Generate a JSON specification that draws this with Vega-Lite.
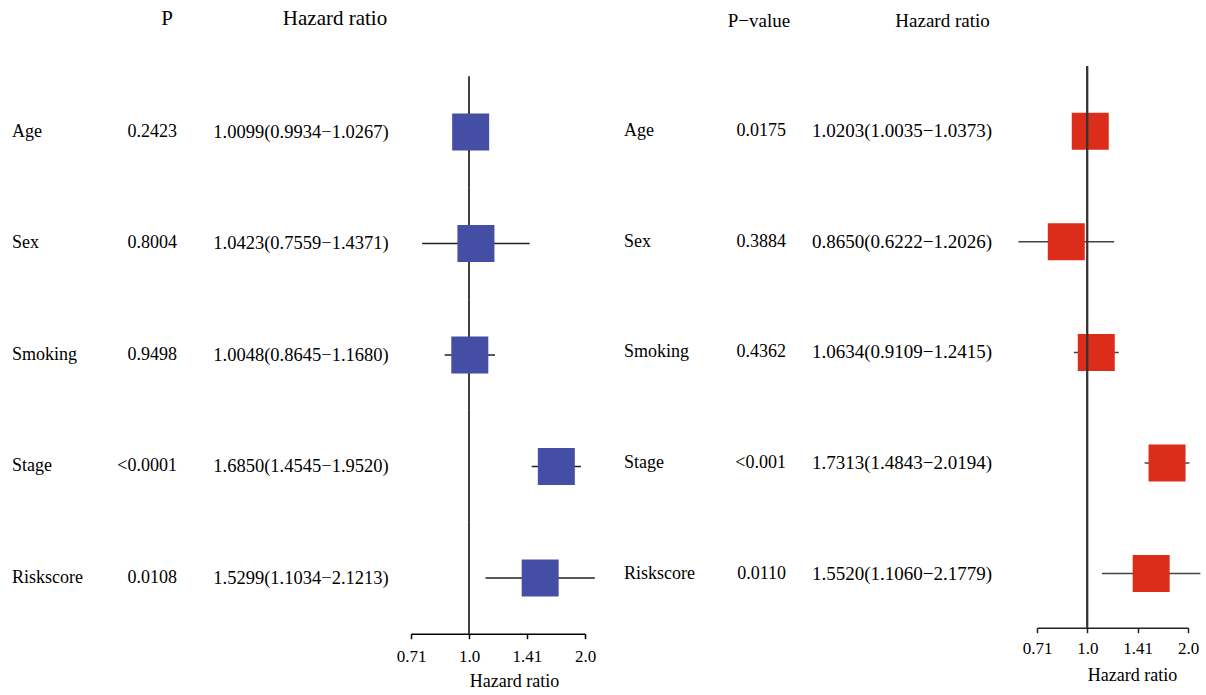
{
  "$schema": "https://vega.github.io/schema/vega-lite/v6.json",
  "autosize": {"type": "pad"},
  "padding": {"left": 12, "top": 8, "right": 4, "bottom": 0},
  "background": "white",
  "config": {"view": {"stroke": null}, "font": "Liberation Serif"},
  "datasets": {
    "left": [
      {"var": "Age", "p": "0.2423", "hr": 1.0099, "lo": 0.9934, "hi": 1.0267, "hrText": "1.0099(0.9934−1.0267)"},
      {"var": "Sex", "p": "0.8004", "hr": 1.0423, "lo": 0.7559, "hi": 1.4371, "hrText": "1.0423(0.7559−1.4371)"},
      {"var": "Smoking", "p": "0.9498", "hr": 1.0048, "lo": 0.8645, "hi": 1.168, "hrText": "1.0048(0.8645−1.1680)"},
      {"var": "Stage", "p": "<0.0001", "hr": 1.685, "lo": 1.4545, "hi": 1.952, "hrText": "1.6850(1.4545−1.9520)"},
      {"var": "Riskscore", "p": "0.0108", "hr": 1.5299, "lo": 1.1034, "hi": 2.1213, "hrText": "1.5299(1.1034−2.1213)"}
    ],
    "right": [
      {"var": "Age", "p": "0.0175", "hr": 1.0203, "lo": 1.0035, "hi": 1.0373, "hrText": "1.0203(1.0035−1.0373)"},
      {"var": "Sex", "p": "0.3884", "hr": 0.865, "lo": 0.6222, "hi": 1.2026, "hrText": "0.8650(0.6222−1.2026)"},
      {"var": "Smoking", "p": "0.4362", "hr": 1.0634, "lo": 0.9109, "hi": 1.2415, "hrText": "1.0634(0.9109−1.2415)"},
      {"var": "Stage", "p": "<0.001", "hr": 1.7313, "lo": 1.4843, "hi": 2.0194, "hrText": "1.7313(1.4843−2.0194)"},
      {"var": "Riskscore", "p": "0.0110", "hr": 1.552, "lo": 1.106, "hi": 2.1779, "hrText": "1.5520(1.1060−2.1779)"}
    ]
  },
  "hconcat": [
    {
      "width": 106, "height": 567.7,
      "data": {"name": "left"},
      "mark": {"type": "text", "align": "left", "fontSize": 18, "font": "Liberation Serif", "color": "black"},
      "encoding": {
        "x": {"datum": "c", "type": "nominal", "scale": {"type": "point", "padding": 0, "align": 0}, "axis": null},
        "y": {"field": "var", "type": "nominal", "sort": null, "scale": {"type": "band", "domain": ["Age", "Sex", "Smoking", "Stage", "Riskscore"], "paddingInner": 0, "paddingOuter": 0.0457, "align": 1}, "axis": null},
        "text": {"field": "var"}
      }
    },
    {
      "width": 59, "height": 567.7,
      "data": {"name": "left"},
      "title": {"text": "P", "frame": "group", "anchor": "end", "dx": -4, "fontSize": 21, "offset": 20, "baseline": "alphabetic", "fontWeight": "normal", "font": "Liberation Serif", "color": "black"},
      "mark": {"type": "text", "align": "right", "fontSize": 18, "font": "Liberation Serif", "color": "black"},
      "encoding": {
        "x": {"datum": "c", "type": "nominal", "scale": {"type": "point", "padding": 0, "align": 1}, "axis": null},
        "y": {"field": "var", "type": "nominal", "sort": null, "scale": {"type": "band", "domain": ["Age", "Sex", "Smoking", "Stage", "Riskscore"], "paddingInner": 0, "paddingOuter": 0.0457, "align": 1}, "axis": null},
        "text": {"field": "p"}
      }
    },
    {
      "width": 234, "height": 567.7,
      "data": {"name": "left"},
      "title": {"text": "Hazard ratio", "frame": "group", "anchor": "middle", "dx": 41, "fontSize": 21, "offset": 20, "baseline": "alphabetic", "fontWeight": "normal", "font": "Liberation Serif", "color": "black"},
      "mark": {"type": "text", "align": "center", "fontSize": 18.5, "font": "Liberation Serif", "color": "black"},
      "encoding": {
        "x": {"datum": "c", "type": "nominal", "scale": {"type": "point", "padding": 0, "align": 0.53}, "axis": null},
        "y": {"field": "var", "type": "nominal", "sort": null, "scale": {"type": "band", "domain": ["Age", "Sex", "Smoking", "Stage", "Riskscore"], "paddingInner": 0, "paddingOuter": 0.0457, "align": 1}, "axis": null},
        "text": {"field": "hrText"}
      }
    },
    {
      "width": 174, "height": 567.7,
      "data": {"name": "left"},
      "encoding": {
        "y": {"field": "var", "type": "nominal", "sort": null, "scale": {"type": "band", "domain": ["Age", "Sex", "Smoking", "Stage", "Riskscore"], "paddingInner": 0, "paddingOuter": 0.0457, "align": 1}, "axis": null}
      },
      "layer": [
        {
          "mark": {"type": "rect", "stroke": "black", "strokeWidth": 1.5, "fillOpacity": 0},
          "encoding": {
            "x": {"datum": 1, "type": "quantitative", "scale": {"type": "log", "base": 2, "domain": [0.7071, 2], "nice": false},
              "axis": {"values": [0.7071, 1, 1.4142, 2], "labelExpr": "datum.value < 0.8 ? '0.71' : datum.value < 1.2 ? '1.0' : datum.value < 1.6 ? '1.41' : '2.0'", "title": "Hazard ratio", "grid": false, "domainColor": "black", "domainWidth": 1.5, "tickColor": "black", "tickWidth": 1.5, "tickSize": 5, "labelFont": "Liberation Serif", "labelFontSize": 17, "labelColor": "black", "labelPadding": 10, "labelFlush": false, "labelOverlap": false, "titleFont": "Liberation Serif", "titleFontSize": 18, "titleFontWeight": "normal", "titleColor": "black", "titlePadding": 8, "titleX": 103}},
            "x2": {"datum": 1}
          }
        },
        {
          "mark": {"type": "rule", "color": "#222222", "strokeWidth": 1.5},
          "encoding": {
            "x": {"field": "lo", "type": "quantitative"},
            "x2": {"field": "hi"}
          }
        },
        {
          "mark": {"type": "point", "shape": "square", "filled": true, "size": 1369, "color": "#454EA5", "opacity": 1, "strokeWidth": 0},
          "encoding": {
            "x": {"field": "hr", "type": "quantitative"}
          }
        }
      ]
    },
    {
      "width": 135, "height": 561.7,
      "data": {"name": "right"},
      "mark": {"type": "text", "align": "left", "fontSize": 18, "font": "Liberation Serif", "color": "black"},
      "encoding": {
        "x": {"datum": "c", "type": "nominal", "scale": {"type": "point", "padding": 0, "align": 0.2889}, "axis": null},
        "y": {"field": "var", "type": "nominal", "sort": null, "scale": {"type": "point", "domain": ["Age", "Sex", "Smoking", "Stage", "Riskscore"], "padding": 0.5394, "align": 0.5465}, "axis": null},
        "text": {"field": "var"}
      }
    },
    {
      "width": 66, "height": 561.7,
      "data": {"name": "right"},
      "title": {"text": "P−value", "frame": "group", "anchor": "middle", "dx": 6, "fontSize": 19, "offset": 20, "baseline": "alphabetic", "fontWeight": "normal", "font": "Liberation Serif", "color": "black"},
      "mark": {"type": "text", "align": "right", "fontSize": 18, "font": "Liberation Serif", "color": "black"},
      "encoding": {
        "x": {"datum": "c", "type": "nominal", "scale": {"type": "point", "padding": 0, "align": 1}, "axis": null},
        "y": {"field": "var", "type": "nominal", "sort": null, "scale": {"type": "point", "domain": ["Age", "Sex", "Smoking", "Stage", "Riskscore"], "padding": 0.5394, "align": 0.5465}, "axis": null},
        "text": {"field": "p"}
      }
    },
    {
      "width": 251, "height": 561.7,
      "data": {"name": "right"},
      "title": {"text": "Hazard ratio", "frame": "group", "anchor": "middle", "dx": 31, "fontSize": 19, "offset": 20, "baseline": "alphabetic", "fontWeight": "normal", "font": "Liberation Serif", "color": "black"},
      "mark": {"type": "text", "align": "center", "fontSize": 19, "font": "Liberation Serif", "color": "black"},
      "encoding": {
        "x": {"datum": "c", "type": "nominal", "scale": {"type": "point", "padding": 0, "align": 0.4622}, "axis": null},
        "y": {"field": "var", "type": "nominal", "sort": null, "scale": {"type": "point", "domain": ["Age", "Sex", "Smoking", "Stage", "Riskscore"], "padding": 0.5394, "align": 0.5465}, "axis": null},
        "text": {"field": "hrText"}
      }
    },
    {
      "width": 151, "height": 561.7,
      "data": {"name": "right"},
      "encoding": {
        "y": {"field": "var", "type": "nominal", "sort": null, "scale": {"type": "point", "domain": ["Age", "Sex", "Smoking", "Stage", "Riskscore"], "padding": 0.5394, "align": 0.5465}, "axis": null}
      },
      "layer": [
        {
          "mark": {"type": "rule", "color": "#444444", "strokeWidth": 1.5},
          "encoding": {
            "x": {"field": "lo", "type": "quantitative", "scale": {"type": "log", "base": 2, "domain": [0.7071, 2], "nice": false},
              "axis": {"values": [0.7071, 1, 1.4142, 2], "labelExpr": "datum.value < 0.8 ? '0.71' : datum.value < 1.2 ? '1.0' : datum.value < 1.6 ? '1.41' : '2.0'", "title": "Hazard ratio", "grid": false, "domainColor": "#222222", "domainWidth": 1.5, "tickColor": "#222222", "tickWidth": 1.5, "tickSize": 5, "labelFont": "Liberation Serif", "labelFontSize": 17, "labelColor": "black", "labelPadding": 8, "labelFlush": false, "labelOverlap": false, "titleFont": "Liberation Serif", "titleFontSize": 18, "titleFontWeight": "normal", "titleColor": "black", "titlePadding": 10, "titleX": 95}},
            "x2": {"field": "hi"}
          }
        },
        {
          "mark": {"type": "point", "shape": "square", "filled": true, "size": 1369, "color": "#DC2C1A", "opacity": 1, "strokeWidth": 0},
          "encoding": {
            "x": {"field": "hr", "type": "quantitative"}
          }
        },
        {
          "mark": {"type": "rule", "color": "#333333", "strokeWidth": 1.5},
          "encoding": {
            "x": {"datum": 1, "type": "quantitative"},
            "y": null
          }
        }
      ]
    }
  ],
  "spacing": 0,
  "bounds": "flush"
}
